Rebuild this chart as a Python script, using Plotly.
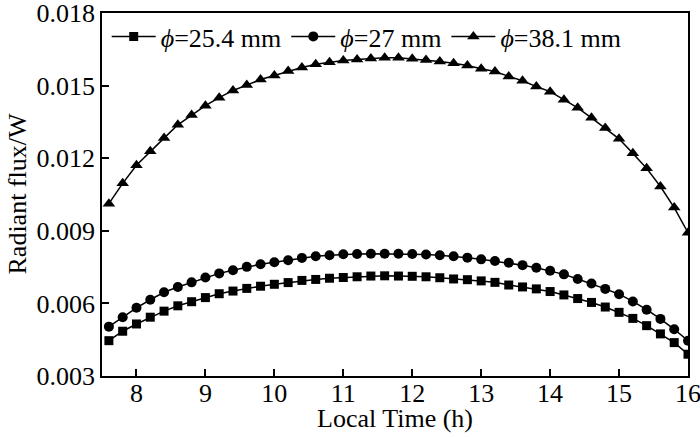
import plotly.graph_objects as go

# Local time (h), one point every 0.2 h
hours = [7.6, 7.8, 8.0, 8.2, 8.4, 8.6, 8.8, 9.0, 9.2, 9.4, 9.6, 9.8,
         10.0, 10.2, 10.4, 10.6, 10.8, 11.0, 11.2, 11.4, 11.6, 11.8,
         12.0, 12.2, 12.4, 12.6, 12.8, 13.0, 13.2, 13.4, 13.6, 13.8,
         14.0, 14.2, 14.4, 14.6, 14.8, 15.0, 15.2, 15.4, 15.6, 15.8, 16.0]

# Radiant flux (W) per aperture diameter
flux_254 = [0.00446, 0.00485, 0.00515, 0.00543, 0.00568, 0.00590, 0.00607, 0.00624,
            0.00640, 0.00651, 0.00662, 0.00671, 0.00679, 0.00686, 0.00695, 0.00699,
            0.00704, 0.00707, 0.00710, 0.00713, 0.00714, 0.00713, 0.00712, 0.00710,
            0.00706, 0.00701, 0.00698, 0.00693, 0.00687, 0.00676, 0.00668, 0.00660,
            0.00649, 0.00635, 0.00620, 0.00604, 0.00585, 0.00563, 0.00538, 0.00508,
            0.00474, 0.00438, 0.00390]
flux_27 = [0.00504, 0.00543, 0.00582, 0.00615, 0.00646, 0.00668, 0.00687, 0.00707,
           0.00724, 0.00737, 0.00751, 0.00762, 0.00770, 0.00778, 0.00788, 0.00795,
           0.00799, 0.00803, 0.00804, 0.00805, 0.00805, 0.00805, 0.00804, 0.00802,
           0.00799, 0.00795, 0.00789, 0.00782, 0.00775, 0.00768, 0.00758, 0.00747,
           0.00735, 0.00720, 0.00701, 0.00682, 0.00660, 0.00638, 0.00608, 0.00574,
           0.00536, 0.00493, 0.00446]
flux_381 = [0.01012, 0.01096, 0.01171, 0.01229, 0.01283, 0.01338, 0.01379, 0.01417,
            0.01450, 0.01480, 0.01502, 0.01525, 0.01542, 0.01560, 0.01575, 0.01588,
            0.01596, 0.01604, 0.01608, 0.01612, 0.01615, 0.01615, 0.01611, 0.01606,
            0.01600, 0.01592, 0.01583, 0.01570, 0.01558, 0.01538, 0.01520, 0.01496,
            0.01475, 0.01442, 0.01408, 0.01367, 0.01325, 0.01280, 0.01220, 0.01158,
            0.01083, 0.00996, 0.00892]

x_ticks = [8, 9, 10, 11, 12, 13, 14, 15, 16]
y_ticks = [0.003, 0.006, 0.009, 0.012, 0.015, 0.018]
y_ticktext = ["0.003", "0.006", "0.009", "0.012", "0.015", "0.018"]

SERIES = [
    ("<i>ϕ</i>=25.4 mm", flux_254, "square", 9),
    ("<i>ϕ</i>=27 mm", flux_27, "circle", 10),
    ("<i>ϕ</i>=38.1 mm", flux_381, "triangle-up", 11),
]

FONT = "Liberation Serif, Times New Roman, serif"
FS = 26

fig = go.Figure()
for name, vals, symbol, size in SERIES:
    fig.add_trace(go.Scatter(
        x=hours, y=vals,
        mode="lines+markers",
        name=name,
        line=dict(color="black", width=1.5),
        marker=dict(symbol=symbol, size=size, color="black"),
    ))

axis_common = dict(
    showline=True, linecolor="black", linewidth=1.5, mirror=True,
    ticks="inside", ticklen=7, tickwidth=1.5, tickcolor="black",
    showgrid=False, zeroline=False, automargin=False,
    ticklabeloverflow="allow",
    tickfont=dict(size=FS, color="black"),
)

fig.update_xaxes(range=[7.5, 16], tickvals=x_ticks, ticklabelstandoff=-7,
                 **axis_common)
fig.update_yaxes(range=[0.003, 0.018], tickvals=y_ticks, ticktext=y_ticktext,
                 **axis_common)

# axis titles as annotations so they sit as tight as in the source figure
fig.add_annotation(text="Local Time (h)", xref="paper", yref="paper",
                   x=0.5, y=0, yshift=-42, yanchor="middle", showarrow=False,
                   font=dict(size=FS, color="black"))
fig.add_annotation(text="Radiant flux/W", xref="paper", yref="paper",
                   x=0, y=0.5, xshift=-85, xanchor="center", textangle=-90,
                   showarrow=False, font=dict(size=FS, color="black"))

fig.update_layout(
    width=700, height=437,
    font=dict(family=FONT, color="black"),
    paper_bgcolor="white", plot_bgcolor="white",
    margin=dict(l=102, r=12, t=13, b=61),
    showlegend=True,
    legend=dict(
        orientation="h", x=0.008, y=1.0, xanchor="left", yanchor="top",
        bgcolor="rgba(0,0,0,0)", borderwidth=0,
        font=dict(size=FS, color="black"),
        itemwidth=44,
    ),
)

# drop the browser's default body margin so the figure sits at the page corner
fig.write_html("out.html", config={"displayModeBar": False},
               post_script="document.body.style.margin='0';")
